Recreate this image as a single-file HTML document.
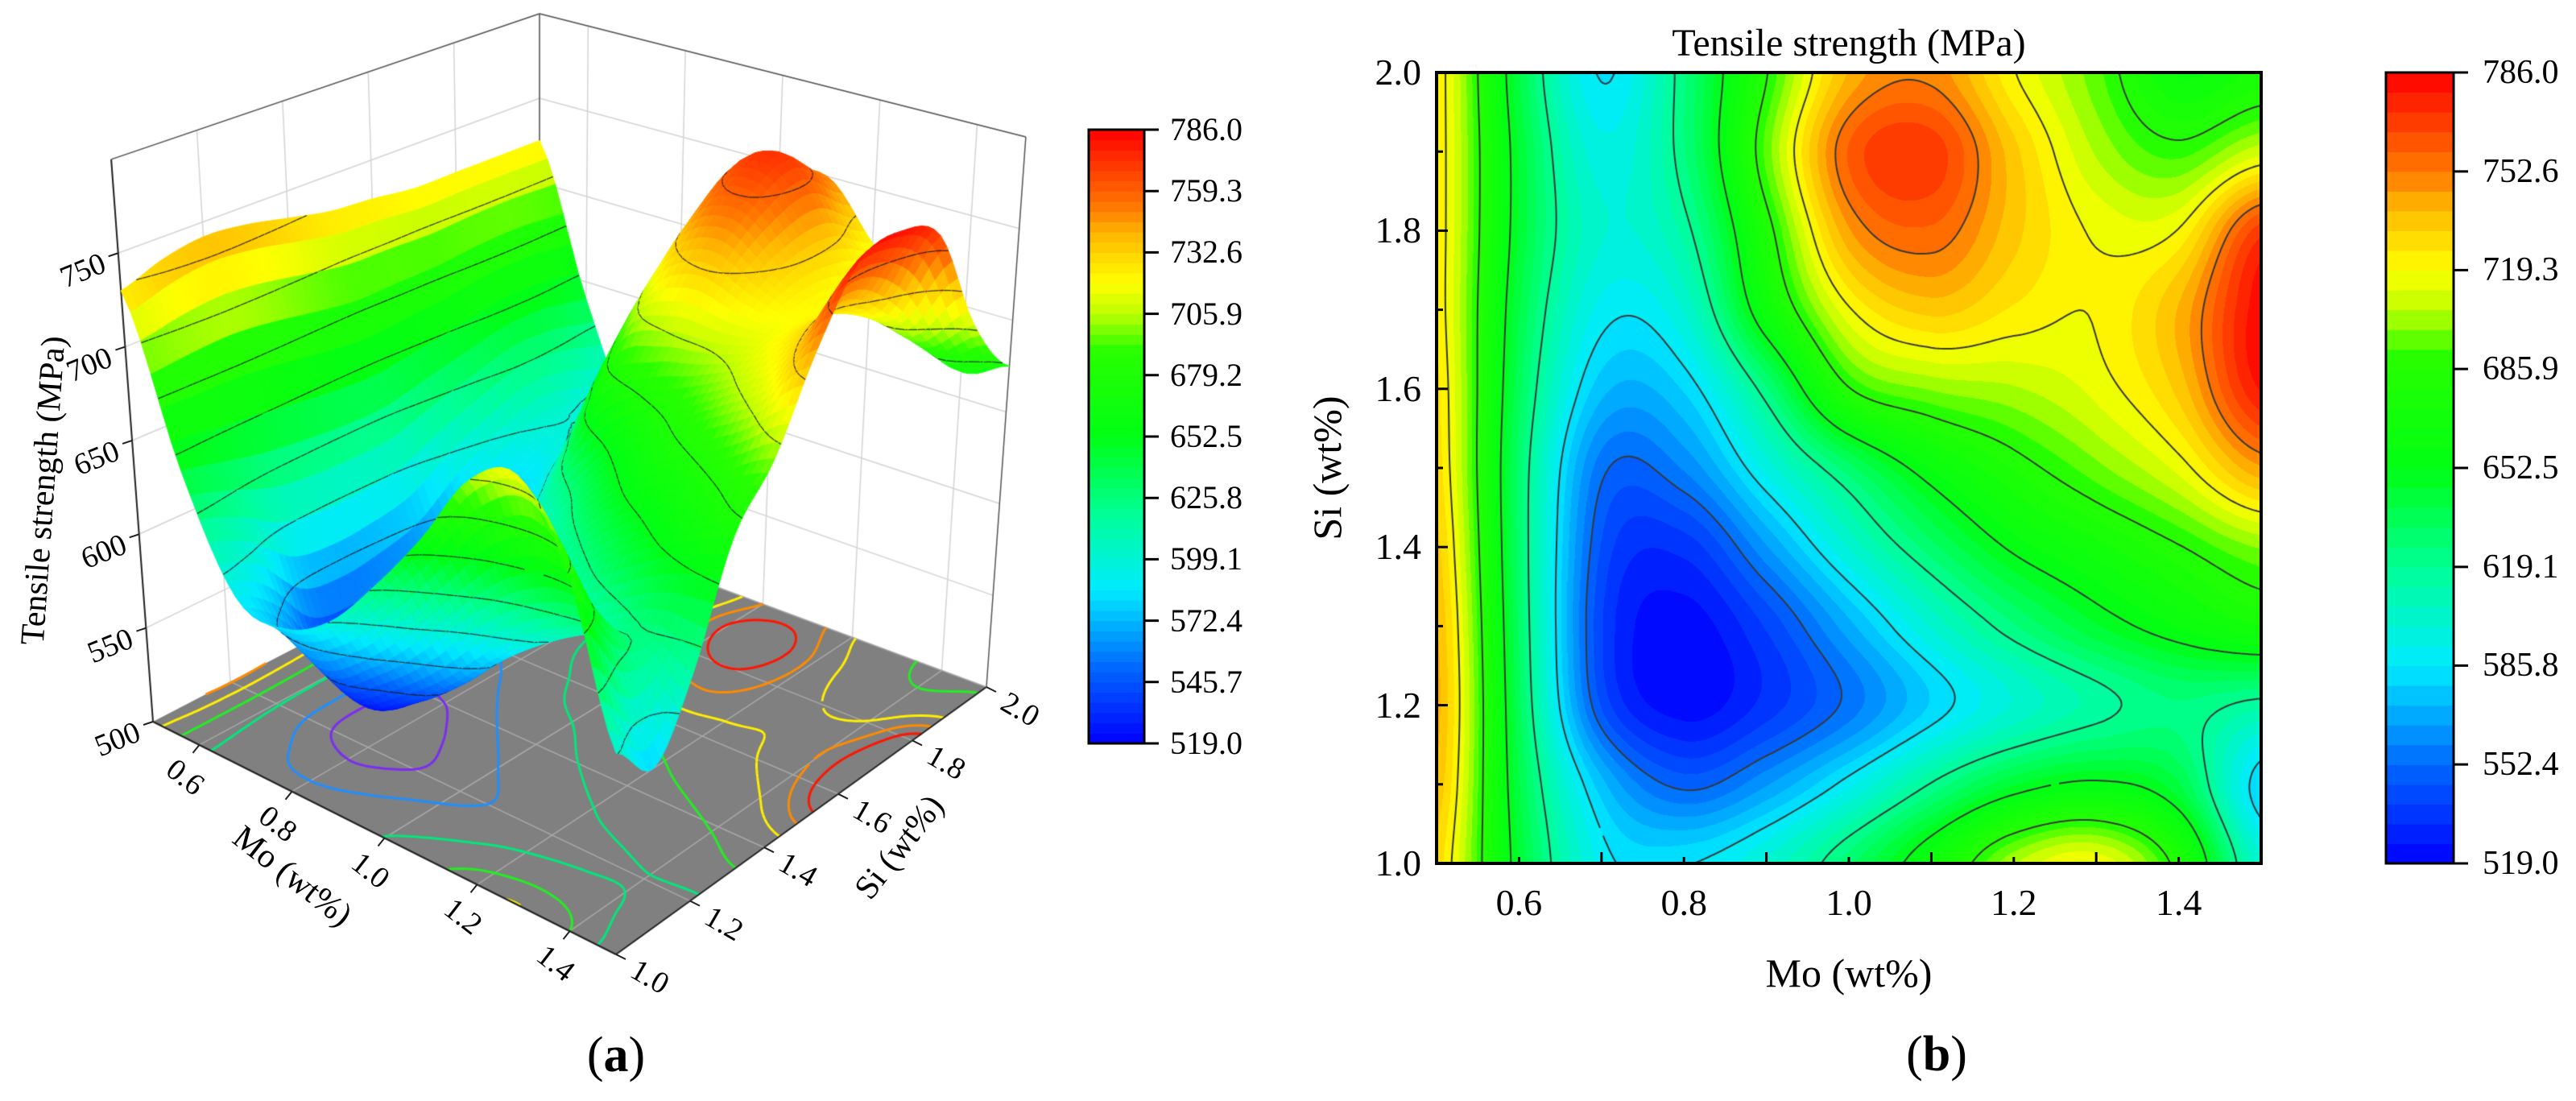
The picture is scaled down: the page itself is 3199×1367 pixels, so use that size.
<!DOCTYPE html>
<html><head><meta charset="utf-8">
<style>
html,body{margin:0;padding:0;background:#fff;}
#root{position:relative;width:3199px;height:1367px;overflow:hidden;background:#fff;font-family:"Liberation Serif","DejaVu Serif","Times New Roman",serif;color:#000;}
#txt div{font-family:"Liberation Serif","DejaVu Serif","Times New Roman",serif;}
.t{position:absolute;white-space:nowrap;transform:translate(-50%,-50%);line-height:1;}
.r{position:absolute;white-space:nowrap;line-height:1;transform:translateY(-50%);}
.rr{position:absolute;white-space:nowrap;line-height:1;transform:translate(-100%,-50%);}
canvas{position:absolute;}
</style></head>
<body>
<div id="root">
<canvas id="ca" width="1700" height="1367" style="left:0;top:0"></canvas>
<canvas id="cb" width="1024" height="982" style="left:1784px;top:90px"></canvas>
<svg id="ov" width="3199" height="1367" style="position:absolute;left:0;top:0"></svg>
<div id="txt"></div>
</div>
<script>
// ---- data ----
const moGrid=[0.5,0.6,0.7,0.8,0.9,1.0,1.1,1.2,1.3,1.4,1.5];
const siGrid=[1.0,1.1,1.2,1.3,1.4,1.5,1.6,1.7,1.8,1.9,2.0];
const ts_si10=[730,645,590,585,600,630,665,705,718,680,600];
const ts_si11=[738,640,575,550,565,590,620,645,655,640,580];
const ts_si12=[742,635,545,522,535,555,580,600,615,625,615];
const ts_si13=[740,632,540,522,540,570,600,625,645,660,672];
const ts_si14=[735,630,545,535,565,600,630,655,670,685,700];
const ts_si15=[730,630,555,560,595,630,660,680,697,715,745];
const ts_si16=[728,635,575,580,625,685,700,705,715,735,780];
const ts_si17=[725,640,590,600,665,718,735,725,720,740,784];
const ts_si18=[725,645,600,615,680,745,758,735,718,720,770];
const ts_si19=[725,645,595,625,695,760,770,735,705,690,710];
const ts_si20=[725,640,585,625,685,740,750,720,695,665,675];
const tsGrid=[ts_si10,ts_si11,ts_si12,ts_si13,ts_si14,ts_si15,ts_si16,ts_si17,ts_si18,ts_si19,ts_si20];
const moTicks=[0.6,0.8,1.0,1.2,1.4];
const moTickLabels=["0.6","0.8","1.0","1.2","1.4"];
const siTicks=[1.0,1.2,1.4,1.6,1.8,2.0];
const siTickLabels=["1.0","1.2","1.4","1.6","1.8","2.0"];
const zTicks=[500,550,600,650,700,750];
const cbTicksA=[519.0,545.7,572.4,599.1,625.8,652.5,679.2,705.9,732.6,759.3,786.0];
const cbTicksB=[519.0,552.4,585.8,619.1,652.5,685.9,719.3,752.6,786.0];
const vMin=519, vMax=786;

// ---- helpers ----
function cr(p0,p1,p2,p3,t){return 0.5*((2*p1)+(-p0+p2)*t+(2*p0-5*p1+4*p2-p3)*t*t+(-p0+3*p1-3*p2+p3)*t*t*t);}
function g(i,j){i=Math.max(0,Math.min(10,i));j=Math.max(0,Math.min(10,j));return tsGrid[j][i];}
function val(mo,si){
  let fx=(mo-moGrid[0])/(moGrid[1]-moGrid[0]), fy=(si-siGrid[0])/(siGrid[1]-siGrid[0]);
  fx=Math.max(0,Math.min(10,fx));fy=Math.max(0,Math.min(10,fy));
  let i=Math.min(9,Math.floor(fx)), j=Math.min(9,Math.floor(fy)); let tx=fx-i, ty=fy-j;
  const rows=[];
  for(let k=-1;k<=2;k++) rows.push(cr(g(i-1,j+k),g(i,j+k),g(i+1,j+k),g(i+2,j+k),tx));
  let v=cr(rows[0],rows[1],rows[2],rows[3],ty);
  return Math.max(vMin,Math.min(vMax,v));
}
const stops=[[519,[0,0,255]],[552.4,[0,105,255]],[585.8,[0,235,255]],[619.1,[0,255,150]],[652.5,[0,255,20]],[690,[40,255,0]],[706,[190,255,0]],[719.3,[255,255,0]],[740,[255,185,0]],[752.6,[255,120,0]],[786,[255,0,0]]];
function cmap(v){
  if(v<=stops[0][0])return stops[0][1];
  for(let k=1;k<stops.length;k++){if(v<=stops[k][0]){const a=stops[k-1],b=stops[k];const t=(v-a[0])/(b[0]-a[0]);return [0,1,2].map(c=>Math.round(a[1][c]+(b[1][c]-a[1][c])*t));}}
  return stops[stops.length-1][1];
}
function cellSegs(x0,y0,x1,y1,a,b,c,d,L){
  const pts=[];
  function e(p,q,va,vb){if((va-L)*(vb-L)<0){const t=(L-va)/(vb-va);pts.push([p[0]+(q[0]-p[0])*t,p[1]+(q[1]-p[1])*t]);}}
  e([x0,y0],[x1,y0],a,b);e([x1,y0],[x1,y1],b,c);e([x1,y1],[x0,y1],c,d);e([x0,y1],[x0,y0],d,a);
  const s=[];if(pts.length>=2)s.push([pts[0],pts[1]]);if(pts.length===4)s.push([pts[2],pts[3]]);return s;
}

// ---- panel b contour map ----
(function(){
  const cv=document.getElementById('cb');const ctx=cv.getContext('2d');
  const W=cv.width,H=cv.height;const img=ctx.createImageData(W,H);
  const nLev=40, step=(vMax-vMin)/nLev;
  for(let y=0;y<H;y++){const si=2.0-(y+0.5)/H;
    for(let x=0;x<W;x++){const mo=0.5+(x+0.5)/W;const v=val(mo,si);
      let l=Math.min(nLev-1,Math.floor((v-vMin)/step));const c=cmap(vMin+(l+0.5)*step);
      const o=(y*W+x)*4;img.data[o]=c[0];img.data[o+1]=c[1];img.data[o+2]=c[2];img.data[o+3]=255;}}
  ctx.putImageData(img,0,0);
  const N=200;const grid=[];
  for(let j=0;j<=N;j++){grid.push([]);for(let i=0;i<=N;i++)grid[j].push(val(0.5+i/N,1.0+j/N));}
  ctx.strokeStyle='#383838';ctx.lineWidth=2;ctx.beginPath();
  for(let li=1;li<cbTicksB.length-1;li++){const L=cbTicksB[li];
    for(let j=0;j<N;j++)for(let i=0;i<N;i++){
      const s=cellSegs(i,j,i+1,j+1,grid[j][i],grid[j][i+1],grid[j+1][i+1],grid[j+1][i],L);
      s.forEach(sg=>{ctx.moveTo(sg[0][0]/N*W,H-sg[0][1]/N*H);ctx.lineTo(sg[1][0]/N*W,H-sg[1][1]/N*H);});}}
  ctx.stroke();
})();

// ---- panel a 3D ----
const cL=[190,896],cF=[765,1185],cR=[1225,853],cB=[670,647];
const kL=2.327,kF=2.5,kR=2.277,kB=2.1, dL=-0.173,dF=0,dR=0.163,dB=0;
function proj(mo,si,z){
  const u=(mo-0.5),v=(si-1.0);
  const wL=(1-u)*(1-v),wF=u*(1-v),wR=u*v,wB=(1-u)*v;
  const x=wL*cL[0]+wF*cF[0]+wR*cR[0]+wB*cB[0], y=wL*cL[1]+wF*cF[1]+wR*cR[1]+wB*cB[1];
  const k=wL*kL+wF*kF+wR*kR+wB*kB, d=wL*dL+wF*dF+wR*dR+wB*dB;
  return [x+d*(z-500), y-k*(z-500)];
}
(function(){
  const ctx=document.getElementById('ca').getContext('2d');
  function line(p,q,col,w){ctx.strokeStyle=col;ctx.lineWidth=w;ctx.beginPath();ctx.moveTo(p[0],p[1]);ctx.lineTo(q[0],q[1]);ctx.stroke();}
  const gc='#d4d4d4';
  [550,600,650,700,750,800].forEach(z=>{line(proj(0.5,1.0,z),proj(0.5,2.0,z),gc,1.5);line(proj(0.5,2.0,z),proj(1.5,2.0,z),gc,1.5);});
  siTicks.forEach(s=>line(proj(0.5,s,500),proj(0.5,s,800),gc,1.5));
  moTicks.forEach(m=>line(proj(m,2.0,500),proj(m,2.0,800),gc,1.5));
  const ec='#555';
  line(proj(0.5,1,500),proj(0.5,1,800),'#222',2);
  line(proj(0.5,2,500),proj(0.5,2,800),ec,1.5);
  line(proj(1.5,2,500),proj(1.5,2,800),ec,1.5);
  line(proj(0.5,1,800),proj(0.5,2,800),ec,1.5);
  line(proj(0.5,2,800),proj(1.5,2,800),ec,1.5);
  ctx.fillStyle='#808080';ctx.beginPath();
  [[0.5,1],[1.5,1],[1.5,2],[0.5,2]].forEach((p,i)=>{const q=proj(p[0],p[1],500);i?ctx.lineTo(q[0],q[1]):ctx.moveTo(q[0],q[1]);});
  ctx.closePath();ctx.fill();
  moTicks.forEach(m=>line(proj(m,1,500),proj(m,2,500),'#a8a8a8',1.5));
  siTicks.forEach(s=>line(proj(0.5,s,500),proj(1.5,s,500),'#a8a8a8',1.5));
  const N=120;const grid=[];
  for(let j=0;j<=N;j++){grid.push([]);for(let i=0;i<=N;i++)grid[j].push(val(0.5+i/N,1.0+j/N));}
  const fl=[[535,'#7b2df0'],[570,'#1e8fff'],[628,'#00e87a'],[680,'#22ee22'],[718,'#ffee00'],[740,'#ff8a00'],[758,'#ff1500']];
  ctx.lineWidth=3;
  fl.forEach(f=>{ctx.strokeStyle=f[1];ctx.beginPath();
    for(let j=0;j<N;j++)for(let i=0;i<N;i++){
      cellSegs(i,j,i+1,j+1,grid[j][i],grid[j][i+1],grid[j+1][i+1],grid[j+1][i],f[0]).forEach(sg=>{
        const p=proj(0.5+sg[0][0]/N,1+sg[0][1]/N,500),q=proj(0.5+sg[1][0]/N,1+sg[1][1]/N,500);ctx.moveTo(p[0],p[1]);ctx.lineTo(q[0],q[1]);});}
    ctx.stroke();});
  line(proj(0.5,1,500),proj(1.5,1,500),'#222',2);
  line(proj(1.5,1,500),proj(1.5,2,500),'#222',2);
  const M=60;const sv=[];
  for(let j=0;j<=M;j++){sv.push([]);for(let i=0;i<=M;i++)sv[j].push(val(0.5+i/M,1+j/M));}
  const quads=[];
  for(let j=0;j<M;j++)for(let i=0;i<M;i++)quads.push([i,j,(i+0.5)/M+(1-(j+0.5)/M)]);
  quads.sort((a,b)=>a[2]-b[2]);
  const sl=cbTicksA.slice(1,-1);
  quads.forEach(q=>{const i=q[0],j=q[1];
    const m0=0.5+i/M,m1=0.5+(i+1)/M,s0=1+j/M,s1=1+(j+1)/M;
    const a=sv[j][i],b=sv[j][i+1],c=sv[j+1][i+1],d=sv[j+1][i];
    const P=[proj(m0,s0,a),proj(m1,s0,b),proj(m1,s1,c),proj(m0,s1,d)];
    const col=cmap((a+b+c+d)/4);const cs='rgb('+col.join(',')+')';
    ctx.fillStyle=cs;ctx.strokeStyle=cs;ctx.lineWidth=1;ctx.beginPath();
    P.forEach((p,k)=>k?ctx.lineTo(p[0],p[1]):ctx.moveTo(p[0],p[1]));ctx.closePath();ctx.fill();ctx.stroke();
    ctx.strokeStyle='rgba(20,20,20,0.8)';ctx.lineWidth=1.3;ctx.beginPath();
    sl.forEach(L=>cellSegs(m0,s0,m1,s1,a,b,c,d,L).forEach(sg=>{const p=proj(sg[0][0],sg[0][1],L),r=proj(sg[1][0],sg[1][1],L);ctx.moveTo(p[0],p[1]);ctx.lineTo(r[0],r[1]);}));
    ctx.stroke();
  });
})();

// ---- overlay ----
const NS='http://www.w3.org/2000/svg';const ov=document.getElementById('ov');
function sv_(tag,attrs,name){const e=document.createElementNS(NS,tag);for(const k in attrs)e.setAttribute(k,attrs[k]);
  
  
  ov.appendChild(e);return e;}
const txt=document.getElementById('txt');
function T(s,x,y,size,cls,rot,name){const d=document.createElement('div');d.className=cls;d.textContent=s;
  d.style.left=x+'px';d.style.top=y+'px';d.style.fontSize=size+'px';
  if(rot){d.style.transform=(cls==='t'?'translate(-50%,-50%) ':'')+'rotate('+rot+'deg)';}
  
  
  txt.appendChild(d);return d;}

const bx0=1784,bx1=2808,by0=90,by1=1072;
const xb=m=>bx0+(m-0.5)*(bx1-bx0), yb=s=>by1-(s-1.0)*(by1-by0);
sv_('rect',{x:bx0,y:by0,width:bx1-bx0,height:by1-by0,fill:'none',stroke:'#000','stroke-width':4},'contour-plot-frame');
for(let k=0;k<=10;k++){const m=0.5+k*0.1;const len=(k%2===0)?14:8;
  sv_('line',{x1:xb(m),y1:by1,x2:xb(m),y2:by1-len,stroke:'#000','stroke-width':3},'x-tick');
  const s=1.0+k*0.1;sv_('line',{x1:bx0,y1:yb(s),x2:bx0+len,y2:yb(s),stroke:'#000','stroke-width':3},'y-tick');}
moTicks.forEach((m,i)=>T(moTickLabels[i],xb(m),1121,46,'t',0,'x-tick-label'));
siTicks.forEach((s,i)=>T(siTickLabels[i],1765,yb(s),46,'rr',0,'y-tick-label'));
T('Mo (wt%)',2296,1208,50,'t',0,'x-axis-title');
T('Si (wt%)',1648,581,50,'t',-90,'y-axis-title');
T('Tensile strength (MPa)',2296,54,48,'t',0,'chart-title');
(function(){const x0=2963,x1=3047,y0=90,y1=1072,n=40;
  for(let k=0;k<n;k++){const v=vMin+(k+0.5)*(vMax-vMin)/n;const c=cmap(v);const h=(y1-y0)/n;
    sv_('rect',{x:x0,y:y1-(k+1)*h,width:x1-x0,height:h+0.6,fill:'rgb('+c.join(',')+')'},'colorbar-band');}
  sv_('rect',{x:x0,y:y0,width:x1-x0,height:y1-y0,fill:'none',stroke:'#000','stroke-width':3},'colorbar-frame');
  cbTicksB.forEach(v=>{const y=y1-(v-vMin)/(vMax-vMin)*(y1-y0);
    sv_('line',{x1:x1,y1:y,x2:x1+18,y2:y,stroke:'#000','stroke-width':3},'colorbar-tick');
    T(v.toFixed(1),3083,y,42,'r',0,'colorbar-tick-label');});
})();
(function(){const x0=1352,x1=1421,y0=161,y1=923,n=60;
  for(let k=0;k<n;k++){const v=vMin+(k+0.5)*(vMax-vMin)/n;const c=cmap(v);const h=(y1-y0)/n;
    sv_('rect',{x:x0,y:y1-(k+1)*h,width:x1-x0,height:h+0.6,fill:'rgb('+c.join(',')+')'},'colorbar-band');}
  sv_('rect',{x:x0,y:y0,width:x1-x0,height:y1-y0,fill:'none',stroke:'#000','stroke-width':3},'colorbar-frame');
  cbTicksA.forEach(v=>{const y=y1-(v-vMin)/(vMax-vMin)*(y1-y0);
    sv_('line',{x1:x1,y1:y,x2:x1+18,y2:y,stroke:'#000','stroke-width':3},'colorbar-tick');
    T(v.toFixed(1),1453,y,40,'r',0,'colorbar-tick-label');});
})();
zTicks.forEach(z=>{const p=proj(0.5,1.0,z);T(String(z),p[0]-44,p[1]+22,38,'t',-22,'z-tick-label');
  sv_('line',{x1:p[0],y1:p[1],x2:p[0]-12,y2:p[1]+4,stroke:'#222','stroke-width':2},'z-tick');});
moTicks.forEach((m,i)=>{const p=proj(m,1.0,500);T(moTickLabels[i],p[0]-18,p[1]+40,38,'t',38,'mo-tick-label');
  sv_('line',{x1:p[0],y1:p[1],x2:p[0]-8,y2:p[1]+10,stroke:'#222','stroke-width':2},'mo-tick');});
siTicks.forEach((s,i)=>{const p=proj(1.5,s,500);T(siTickLabels[i],p[0]+42,p[1]+28,38,'t',30,'si-tick-label');
  sv_('line',{x1:p[0],y1:p[1],x2:p[0]+12,y2:p[1]+6,stroke:'#222','stroke-width':2},'si-tick');});
T('Tensile strength (MPa)',54,609,42,'t',-86,'z-axis-title');
T('Mo (wt%)',363,1088,42,'t',38,'mo-axis-title');
T('Si (wt%)',1117,1052,42,'t',-52,'si-axis-title');
const pa=T('(',765,1310,62,'t',0,'panel-a-label');pa.innerHTML='(<b>a</b>)';
const pb=T('(',2405,1309,62,'t',0,'panel-b-label');pb.innerHTML='(<b>b</b>)';
</script>
</body></html>
